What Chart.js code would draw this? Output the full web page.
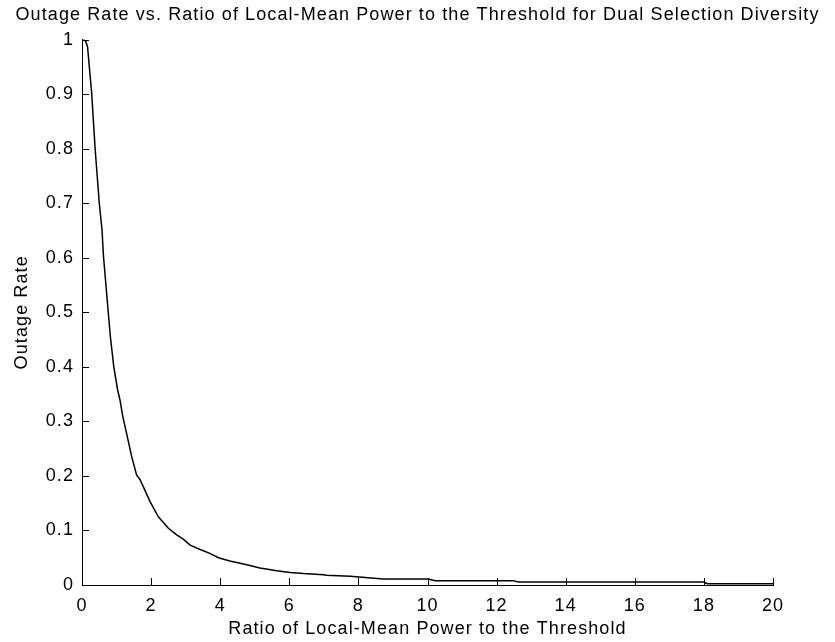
<!DOCTYPE html>
<html>
<head>
<meta charset="utf-8">
<title>Outage Rate</title>
<script src="https://cdn.jsdelivr.net/npm/chart.js@4.4.1/dist/chart.umd.min.js"></script>
<style>
    html, body { margin: 0; padding: 0; background: #fff; }
    #wrap { width: 835px; height: 642px; }
</style>
</head>
<body>
<div id="wrap"><canvas id="outage-chart" width="835" height="642"></canvas></div>
<script>
// Tỉ số công suất trung bình / ngưỡng (trục x)
var ratioValues = [0, 0.1, 0.16, 0.28, 0.38, 0.5, 0.58, 0.62, 0.76, 0.82, 0.92, 1.03, 1.1, 1.18,
    1.29, 1.44, 1.58, 1.68, 1.82, 1.97, 2.21, 2.5, 2.74, 2.93, 3.13, 3.42, 3.7, 3.95, 4.28,
    4.77, 5.15, 5.64, 6.02, 6.41, 6.99, 7.08, 7.76, 8.72, 10.02, 10.22, 12.48, 12.63, 18.0, 18.1, 20];
// Xác suất mất tín hiệu (trục y)
var outageValues = [1.0, 0.998, 0.987, 0.902, 0.8, 0.7, 0.651, 0.604, 0.5, 0.456, 0.4, 0.358, 0.339, 0.309,
    0.278, 0.235, 0.202, 0.193, 0.174, 0.153, 0.125, 0.104, 0.092, 0.084, 0.073, 0.065, 0.058, 0.05, 0.044,
    0.037, 0.031, 0.026, 0.023, 0.021, 0.019, 0.018, 0.016, 0.011, 0.011, 0.008, 0.008, 0.0055, 0.0055, 0.0025, 0.0025];

var xTicks = [0, 2, 4, 6, 8, 10, 12, 14, 16, 18, 20];
var yTicks = [0, 0.1, 0.2, 0.3, 0.4, 0.5, 0.6, 0.7, 0.8, 0.9, 1];

var chartTitle = "Outage Rate vs. Ratio of Local-Mean Power to the Threshold for Dual Selection Diversity";
var xTitle = "Ratio of Local-Mean Power to the Threshold";
var yTitle = "Outage Rate";

var fontFamily = "Arial, 'Liberation Sans', Helvetica, sans-serif";
var fontSize = 18;

// ghép dữ liệu thành điểm
var points = ratioValues.map((x, i) => ({ x: x, y: outageValues[i] }));

// khoảng cách chữ kiểu matlab
var spacingPlugin = {
    id: "spacing",
    beforeLayout(chart) { chart.ctx.letterSpacing = "1.1px"; },
    beforeDraw(chart) { chart.ctx.letterSpacing = "1.1px"; }
};

// vạch chia hướng vào trong
var innerTicks = {
    id: "innerTicks",
    afterDraw(chart) {
        const ctx = chart.ctx;
        const area = chart.chartArea;
        const len = 7;
        ctx.save();
        ctx.strokeStyle = "#000";
        ctx.lineWidth = 1;
        ctx.beginPath();
        chart.scales.x.ticks.forEach(t => {
            const px = Math.round(chart.scales.x.getPixelForValue(t.value)) + 0.5;
            ctx.moveTo(px, area.bottom);
            ctx.lineTo(px, area.bottom - len);
        });
        chart.scales.y.ticks.forEach(t => {
            const py = Math.round(chart.scales.y.getPixelForValue(t.value)) + 0.5;
            ctx.moveTo(area.left, py);
            ctx.lineTo(area.left + len, py);
        });
        ctx.stroke();
        ctx.restore();
    }
};

const ctx = document.getElementById("outage-chart").getContext("2d");
const myChart = new Chart(ctx, {
    type: "scatter",
    data: {
        datasets: [{
            data: points,
            showLine: true,
            borderColor: "#000",
            borderWidth: 1.5,
            pointRadius: 0,
            tension: 0
        }]
    },
    plugins: [spacingPlugin, innerTicks],
    options: {
        responsive: false,
        animation: false,
        layout: { padding: 0 },
        plugins: {
            legend: { display: false },
            tooltip: { enabled: false },
            title: {
                display: true,
                text: chartTitle,
                color: "#000",
                font: { family: fontFamily, size: fontSize, weight: "normal" },
                padding: { top: 4, bottom: 14 }
            }
        },
        scales: {
            x: {
                type: "linear",
                min: 0,
                max: 20,
                afterBuildTicks: scale => { scale.ticks = xTicks.map(v => ({ value: v })); },
                afterFit: scale => { scale.height = 57; },
                grid: { display: true, drawOnChartArea: false, drawTicks: false },
                border: { display: true, color: "#000", width: 1 },
                ticks: {
                    color: "#000",
                    padding: 10,
                    maxRotation: 0,
                    font: { family: fontFamily, size: fontSize }
                },
                title: {
                    display: true,
                    text: xTitle,
                    color: "#000",
                    font: { family: fontFamily, size: fontSize },
                    padding: { top: 0, bottom: 2 }
                }
            },
            y: {
                type: "linear",
                min: 0,
                max: 1,
                afterBuildTicks: scale => { scale.ticks = yTicks.map(v => ({ value: v })); },
                afterFit: scale => { scale.width = 82; },
                grid: { display: true, drawOnChartArea: false, drawTicks: false },
                border: { display: true, color: "#000", width: 1 },
                ticks: {
                    color: "#000",
                    padding: 8,
                    font: { family: fontFamily, size: fontSize },
                    callback: v => String(v)
                },
                title: {
                    display: true,
                    text: yTitle,
                    color: "#000",
                    font: { family: fontFamily, size: fontSize },
                    padding: { top: 11, bottom: 0 }
                }
            },
            // trục trống bên phải để giữ khoảng trắng (matlab không vẽ khung)
            yRight: {
                type: "linear",
                position: "right",
                display: true,
                afterFit: scale => { scale.width = 62; },
                grid: { display: false },
                border: { display: false },
                ticks: { display: false }
            }
        }
    }
});
</script>
</body>
</html>
